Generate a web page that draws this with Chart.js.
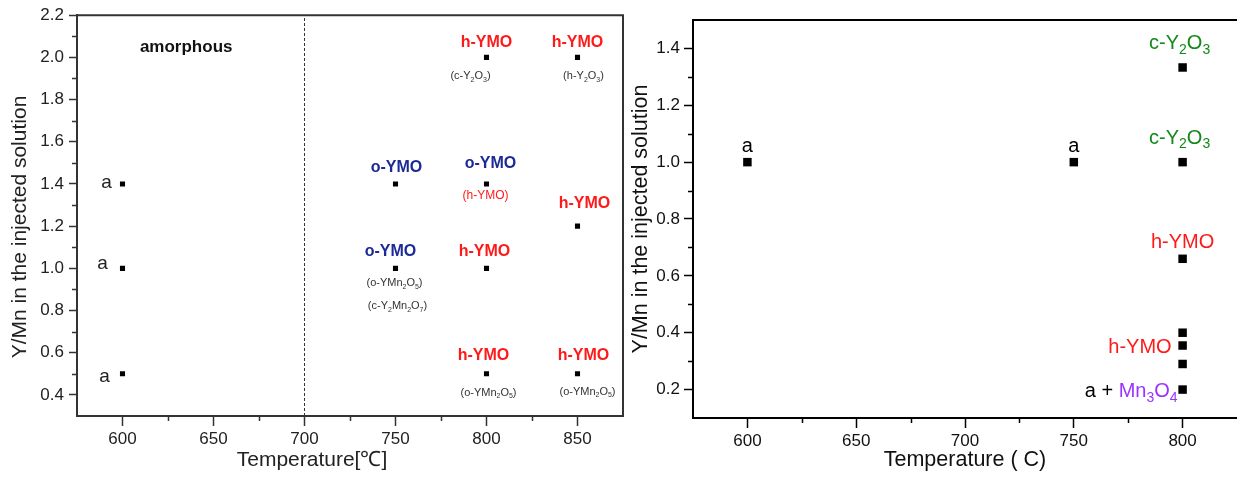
<!DOCTYPE html>
<html>
<head>
<meta charset="utf-8">
<script src="https://cdn.jsdelivr.net/npm/chart.js@4.4.1/dist/chart.umd.min.js"></script>
<style>
  body { margin: 0; background: #fff; overflow: hidden; }
  #wrap { position: relative; width: 1237px; height: 477px; overflow: hidden; }
  canvas { position: absolute; top: 0; }
</style>
</head>
<body>
<div id="wrap">
  <canvas id="left" width="630" height="477" style="left:0"></canvas>
  <canvas id="right" width="613" height="477" style="left:630px"></canvas>
</div>
<script>
// left panel: samples by temperature / Y:Mn ratio
const leftTemp  = [600, 600, 600, 750, 750, 800, 800, 800, 800, 850, 850, 850];
const leftRatio = [1.4, 1.0, 0.5, 1.4, 1.0, 2.0, 1.4, 1.0, 0.5, 2.0, 1.2, 0.5];
const leftXTicks = [600, 650, 700, 750, 800, 850];
const leftXMinor = [625, 675, 725, 775, 825];
const leftYTicks = [0.4, 0.6, 0.8, 1.0, 1.2, 1.4, 1.6, 1.8, 2.0, 2.2];
const leftYMinor = [0.5, 0.7, 0.9, 1.1, 1.3, 1.5, 1.7, 1.9, 2.1];
const amorphousLimit = 700;

// right panel
const rightTemp  = [600, 750, 800, 800, 800, 800, 800, 800, 800];
const rightRatio = [1.0, 1.0, 1.333, 1.0, 0.66, 0.40, 0.355, 0.29, 0.20];
const rightXTicks = [600, 650, 700, 750, 800];
const rightXMinor = [625, 675, 725, 775];
const rightYTicks = [0.2, 0.4, 0.6, 0.8, 1.0, 1.2, 1.4];
const rightYMinor = [0.3, 0.5, 0.7, 0.9, 1.1, 1.3];

const RED = '#ff1a1a', BLUE = '#1c2a96', GREEN = '#12891a', PURPLE = '#9a33ff', DARK = '#333';
const FAMILY = '"Liberation Sans", Arial, sans-serif';

// phase labels, anchored to the points (dx/dy in px)
const leftNotes = [
  { x: 635, y: 2.05, text: 'amorphous', size: 17, bold: true, color: '#111' },
  { x: 800, y: 2.0, text: 'h-YMO', size: 16, bold: true, color: RED, dy: -15 },
  { x: 850, y: 2.0, text: 'h-YMO', size: 16, bold: true, color: RED, dy: -15 },
  { x: 850, y: 1.2, text: 'h-YMO', size: 16, bold: true, color: RED, dx: 7, dy: -23 },
  { x: 800, y: 1.0, text: 'h-YMO', size: 16, bold: true, color: RED, dx: -2, dy: -17 },
  { x: 800, y: 0.5, text: 'h-YMO', size: 16, bold: true, color: RED, dx: -3, dy: -18 },
  { x: 850, y: 0.5, text: 'h-YMO', size: 16, bold: true, color: RED, dx: 6, dy: -18 },
  { x: 750, y: 1.4, text: 'o-YMO', size: 16, bold: true, color: BLUE, dx: 1, dy: -16 },
  { x: 800, y: 1.4, text: 'o-YMO', size: 16, bold: true, color: BLUE, dx: 4, dy: -20 },
  { x: 750, y: 1.0, text: 'o-YMO', size: 16, bold: true, color: BLUE, dx: -5, dy: -17 },
  { x: 800, y: 2.0, text: '(c-Y_2O_3)', size: 11, color: DARK, dx: -16, dy: 19 },
  { x: 850, y: 2.0, text: '(h-Y_2O_3)', size: 11, color: DARK, dx: 6, dy: 19 },
  { x: 800, y: 1.4, text: '(h-YMO)', size: 12, color: RED, dx: -1, dy: 12 },
  { x: 750, y: 1.0, text: '(o-YMn_2O_5)', size: 11, color: DARK, dx: -1, dy: 15 },
  { x: 750, y: 1.0, text: '(c-Y_2Mn_2O_7)', size: 11, color: DARK, dx: 2, dy: 38 },
  { x: 800, y: 0.5, text: '(o-YMn_2O_5)', size: 11, color: DARK, dx: 2, dy: 19 },
  { x: 850, y: 0.5, text: '(o-YMn_2O_5)', size: 11, color: DARK, dx: 10, dy: 18 },
  { x: 600, y: 1.4, text: 'a', size: 19, color: '#222', dx: -16, dy: -1 },
  { x: 600, y: 1.0, text: 'a', size: 19, color: '#222', dx: -20, dy: -5 },
  { x: 600, y: 0.5, text: 'a', size: 19, color: '#222', dx: -18, dy: 3 }
];

const rightNotes = [
  { x: 600, y: 1.0, text: 'a', size: 20, color: '#000', dy: -16 },
  { x: 750, y: 1.0, text: 'a', size: 20, color: '#000', dy: -16 },
  { x: 800, y: 1.333, text: 'c-Y_2O_3', size: 20, color: GREEN, dx: -3, dy: -24 },
  { x: 800, y: 1.0, text: 'c-Y_2O_3', size: 20, color: GREEN, dx: -3, dy: -24 },
  { x: 800, y: 0.66, text: 'h-YMO', size: 20, color: RED, dy: -16 },
  { x: 800, y: 0.355, text: 'h-YMO', size: 20, color: RED, dx: -11, dy: 2, align: 'right' },
  { x: 800, y: 0.2, text: [['a + ', '#000'], ['Mn_3O_4', PURPLE]], size: 20, dx: -5, dy: 2, align: 'right' }
];

// split "Mn_3O_4" into normal / subscript pieces
function pieces(str) {
  const out = [];
  let buf = '';
  for (let i = 0; i < str.length; i++) {
    if (str[i] === '_' && i + 1 < str.length) {
      if (buf) out.push({ t: buf, sub: false });
      buf = '';
      out.push({ t: str[i + 1], sub: true });
      i++;
    } else buf += str[i];
  }
  if (buf) out.push({ t: buf, sub: false });
  return out;
}

function drawNote(ctx, px, py, n) {
  const groups = Array.isArray(n.text) ? n.text : [[n.text, n.color]];
  const subSize = Math.round(n.size * 0.68);
  const weight = n.bold ? 'bold ' : '';
  const runs = [];
  groups.forEach(([str, col]) => {
    pieces(str).forEach(p => runs.push({ t: p.t, sub: p.sub, color: col }));
  });
  let total = 0;
  runs.forEach(r => {
    ctx.font = weight + (r.sub ? subSize : n.size) + 'px ' + FAMILY;
    r.w = ctx.measureText(r.t).width;
    total += r.w;
  });
  let x = px;
  if (n.align === 'right') x = px - total;
  else if (n.align !== 'left') x = px - total / 2;
  ctx.textBaseline = 'middle';
  ctx.textAlign = 'left';
  runs.forEach(r => {
    ctx.font = weight + (r.sub ? subSize : n.size) + 'px ' + FAMILY;
    ctx.fillStyle = r.color;
    ctx.fillText(r.t, x, py + (r.sub ? n.size * 0.32 : 0));
    x += r.w;
  });
}

function notesPlugin(list, extra) {
  return {
    id: 'notes',
    afterDatasetsDraw(chart) {
      const ctx = chart.ctx;
      const xs = chart.scales.x, ys = chart.scales.y;
      ctx.save();
      list.forEach(n => {
        drawNote(ctx, xs.getPixelForValue(n.x) + (n.dx || 0), ys.getPixelForValue(n.y) + (n.dy || 0), n);
      });
      if (extra) extra(chart, ctx);
      ctx.restore();
    }
  };
}

// short minor ticks plus the frame lines
function minorPlugin(xMinor, yMinor, len, color, box) {
  return {
    id: 'minor',
    afterDraw(chart) {
      const ctx = chart.ctx, a = chart.chartArea;
      const xs = chart.scales.x, ys = chart.scales.y;
      ctx.save();
      ctx.strokeStyle = color;
      ctx.lineWidth = 1.5;
      ctx.beginPath();
      xMinor.forEach(v => {
        const p = Math.round(xs.getPixelForValue(v)) + 0.5;
        ctx.moveTo(p, a.bottom); ctx.lineTo(p, a.bottom + len);
      });
      yMinor.forEach(v => {
        const p = Math.round(ys.getPixelForValue(v)) + 0.5;
        ctx.moveTo(a.left, p); ctx.lineTo(a.left - len, p);
      });
      ctx.stroke();
      ctx.lineWidth = 2;
      ctx.beginPath();
      ctx.moveTo(a.left - 1, a.top);
      ctx.lineTo(box ? a.right : chart.width, a.top);
      if (box) ctx.lineTo(a.right, a.bottom);
      ctx.stroke();
      ctx.restore();
    }
  };
}

const tickFont = { family: FAMILY, size: 17 };
const noPad = s => { s.paddingLeft = 0; s.paddingRight = 0; };

new Chart(document.getElementById('left'), {
  type: 'scatter',
  data: {
    datasets: [
      {
        data: leftTemp.map((t, i) => ({ x: t, y: leftRatio[i] })),
        pointStyle: 'rect', pointRadius: 3.6, backgroundColor: '#000', borderWidth: 0
      },
      {
        data: [{ x: amorphousLimit, y: 0.3 }, { x: amorphousLimit, y: 2.2 }],
        showLine: true, pointRadius: 0, borderColor: '#333', borderWidth: 1, borderDash: [3, 2]
      }
    ]
  },
  options: {
    responsive: false,
    animation: false,
    layout: { padding: { top: 14, right: 7, left: 0, bottom: 0 } },
    plugins: { legend: { display: false }, tooltip: { enabled: false } },
    scales: {
      x: {
        type: 'linear', min: 575, max: 875,
        afterBuildTicks: s => { s.ticks = leftXTicks.map(v => ({ value: v })); },
        afterFit: s => { s.height = 61; noPad(s); },
        grid: { drawOnChartArea: false, tickLength: 10, tickColor: DARK, tickWidth: 1.5 },
        border: { color: DARK, width: 2 },
        ticks: { font: tickFont, color: '#222', padding: 3 }
      },
      y: {
        min: 0.3, max: 2.2,
        afterBuildTicks: s => { s.ticks = leftYTicks.map(v => ({ value: v })); },
        afterFit: s => { s.width = 77; },
        grid: { drawOnChartArea: false, tickLength: 8, tickColor: DARK, tickWidth: 1.5 },
        border: { color: DARK, width: 2 },
        ticks: { font: tickFont, color: '#222', padding: 5, callback: v => v.toFixed(1) }
      }
    }
  },
  plugins: [
    minorPlugin(leftXMinor, leftYMinor, 5, DARK, true),
    notesPlugin(leftNotes, (chart, ctx) => {
      // axis titles of the left panel sit off-centre in the original
      ctx.font = '21px ' + FAMILY;
      ctx.fillStyle = '#222';
      ctx.textAlign = 'center';
      ctx.textBaseline = 'middle';
      ctx.fillText('Temperature[\u2103]', chart.chartArea.left + 235, 460);
      ctx.translate(20, 227);
      ctx.rotate(-Math.PI / 2);
      ctx.fillText('Y/Mn in the injected solution', 0, 0);
    })
  ]
});

new Chart(document.getElementById('right'), {
  type: 'scatter',
  data: {
    datasets: [{
      data: rightTemp.map((t, i) => ({ x: t, y: rightRatio[i] })),
      pointStyle: 'rect', pointRadius: 6, backgroundColor: '#000', borderWidth: 0
    }]
  },
  options: {
    responsive: false,
    animation: false,
    layout: { padding: { top: 20, right: 0, left: 0, bottom: 0 } },
    plugins: { legend: { display: false }, tooltip: { enabled: false } },
    scales: {
      x: {
        type: 'linear', min: 575, max: 825,
        afterBuildTicks: s => { s.ticks = rightXTicks.map(v => ({ value: v })); },
        afterFit: s => { s.height = 59; noPad(s); },
        grid: { drawOnChartArea: false, tickLength: 10, tickColor: '#000', tickWidth: 1.5 },
        border: { color: '#000', width: 2 },
        ticks: { font: tickFont, color: '#111', padding: 3 },
        title: {
          display: true, text: 'Temperature ( C)', color: '#111',
          font: { family: FAMILY, size: 21.5, lineHeight: 1 }, padding: { top: 0, bottom: 6 }
        }
      },
      y: {
        min: 0.1, max: 1.5,
        afterBuildTicks: s => { s.ticks = rightYTicks.map(v => ({ value: v })); },
        afterFit: s => { s.width = 63; },
        grid: { drawOnChartArea: false, tickLength: 9, tickColor: '#000', tickWidth: 1.5 },
        border: { color: '#000', width: 2 },
        ticks: { font: tickFont, color: '#111', padding: 4, callback: v => v.toFixed(1) },
        title: {
          display: true, text: 'Y/Mn in the injected solution', color: '#111',
          font: { family: FAMILY, size: 21.5, lineHeight: 1 }, padding: { top: 0, bottom: 0 }
        }
      }
    }
  },
  plugins: [minorPlugin(rightXMinor, rightYMinor, 5, '#000', false), notesPlugin(rightNotes)]
});
</script>
</body>
</html>
